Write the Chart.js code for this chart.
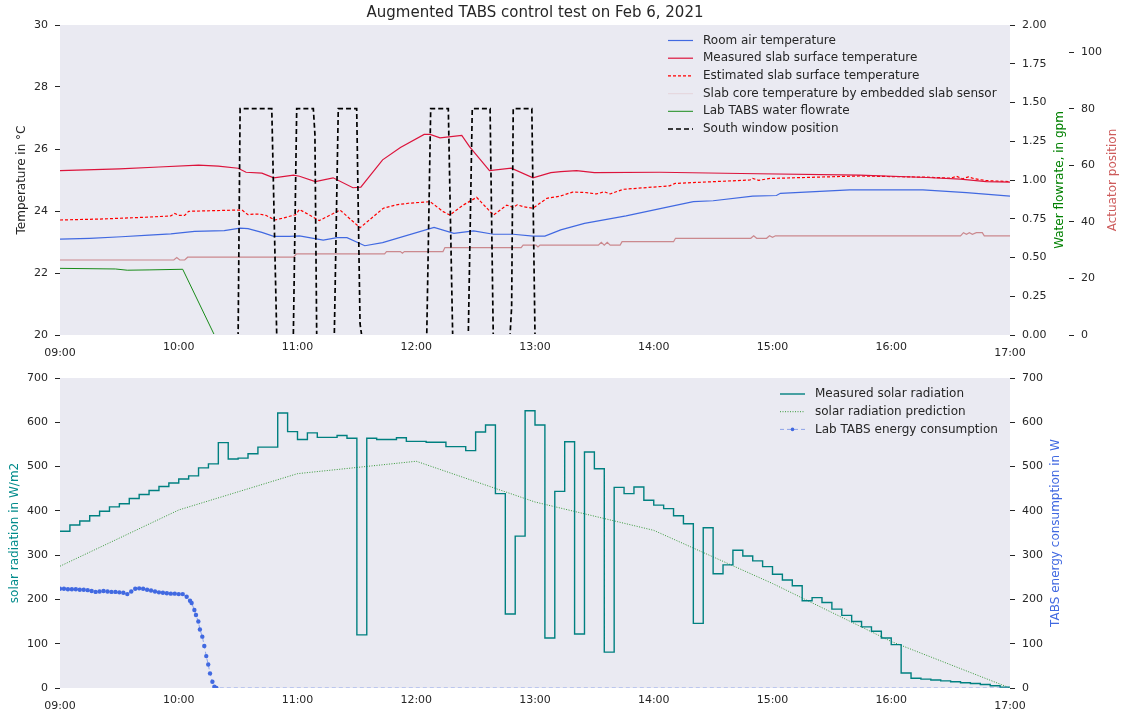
<!DOCTYPE html>
<html>
<head>
<meta charset="utf-8">
<script src="https://cdn.jsdelivr.net/npm/chart.js@4.4.1/dist/chart.umd.min.js"></script>
<style>
  html, body { margin: 0; padding: 0; background: #fff; }
  canvas { display: block; }
</style>
</head>
<body>
<canvas id="topChart" width="1124" height="360"></canvas>
<canvas id="bottomChart" width="1124" height="357"></canvas>
<script>
// x values are minutes after 09:00
var xTicks = [0, 60, 120, 180, 240, 300, 360, 420, 480];
var tickLabels = ["09:00", "10:00", "11:00", "12:00", "13:00", "14:00", "15:00", "16:00", "17:00"];

// ---- top panel ----
var roomT = [0, 15, 31, 45, 56, 68, 83, 91, 95, 102, 108, 116, 121, 133, 140, 145, 154, 163, 189, 199, 209, 219, 229, 239, 245, 253, 265, 286, 308, 320, 330, 350, 362, 364, 399, 436, 458, 480];
var roomV = [23.09, 23.12, 23.17, 23.22, 23.26, 23.34, 23.37, 23.45, 23.43, 23.31, 23.18, 23.18, 23.2, 23.06, 23.14, 23.14, 22.88, 22.98, 23.47, 23.28, 23.36, 23.25, 23.25, 23.19, 23.19, 23.39, 23.6, 23.84, 24.14, 24.3, 24.33, 24.48, 24.5, 24.57, 24.68, 24.68, 24.59, 24.48];

var slabT = [0, 30, 50, 70, 80, 90, 94, 102, 108, 118, 121, 129, 138, 148, 152, 163, 172, 184, 187, 192, 203, 207, 217, 228, 239, 248, 253, 261, 270, 303, 344, 404, 438, 455, 468, 480];
var slabV = [25.3, 25.36, 25.42, 25.48, 25.45, 25.38, 25.25, 25.22, 25.07, 25.16, 25.12, 24.95, 25.07, 24.75, 24.77, 25.65, 26.05, 26.47, 26.47, 26.36, 26.44, 26.07, 25.3, 25.38, 25.07, 25.24, 25.27, 25.3, 25.24, 25.25, 25.21, 25.16, 25.08, 25.03, 24.95, 24.93];

var estT = [0, 20, 40, 56, 58, 60, 63, 65, 90, 92, 95, 98, 101, 104, 108.6, 112, 119, 121, 131, 141.5, 151.6, 163.4, 170, 176, 187, 193.6, 197, 203.7, 210.5, 219, 225.7, 229, 231, 234, 239, 246, 252.7, 259, 265, 271, 275, 278, 281, 284.6, 308, 310.8, 348.7, 350, 353, 358.8, 404, 438, 450, 453, 456, 459, 462, 468, 480];
var estV = [23.71, 23.74, 23.79, 23.84, 23.92, 23.86, 23.86, 23.99, 24.03, 24.03, 23.88, 23.9, 23.9, 23.86, 23.71, 23.76, 23.88, 24.05, 23.69, 24.03, 23.46, 24.09, 24.2, 24.25, 24.3, 23.98, 23.87, 24.19, 24.44, 23.87, 24.19, 24.12, 24.2, 24.14, 24.09, 24.41, 24.48, 24.61, 24.6, 24.55, 24.62, 24.55, 24.62, 24.7, 24.81, 24.89, 25.0, 25.05, 24.99, 25.05, 25.13, 25.09, 25.06, 25.12, 25.04, 25.1, 25.04, 24.98, 24.95];

var coreT = [0, 57.5, 59, 60.5, 63, 64.5, 118, 119.5, 164, 165, 172, 173, 174, 193.5, 194.5, 233, 234, 240.5, 241.5, 242.5, 272, 273.5, 275, 276.5, 278, 283, 284, 310, 311, 349, 350.5, 352, 357, 358.5, 360, 361.5, 455, 456.5, 458, 459.5, 461, 463, 466, 467, 480];
var coreV = [22.42, 22.42, 22.5, 22.42, 22.42, 22.51, 22.51, 22.62, 22.62, 22.69, 22.69, 22.64, 22.69, 22.69, 22.82, 22.82, 22.9, 22.9, 22.84, 22.9, 22.9, 22.99, 22.9, 22.99, 22.9, 22.9, 23.01, 23.01, 23.12, 23.12, 23.2, 23.12, 23.12, 23.2, 23.15, 23.2, 23.2, 23.3, 23.25, 23.3, 23.25, 23.3, 23.3, 23.2, 23.2];

var flowT = [0, 28, 34, 45, 62, 78, 480];
var flowV = [0.43, 0.426, 0.418, 0.42, 0.424, 0, 0];

var windowT = [0, 90, 91, 107, 109.5, 117.9, 119.6, 128, 128.8, 129.7, 138.6, 140.6, 149.9, 151.6, 152.4, 185.3, 187.3, 196.2, 198.4, 206.3, 208.3, 217.3, 218.9, 227.4, 228.2, 229, 238.4, 240, 480];
var windowV = [0, 0, 80, 80, 0, 0, 80, 80, 71, 0, 0, 80, 80, 4, 0, 0, 80, 80, 0, 0, 80, 80, 0, 0, 10, 80, 80, 0, 0];

// ---- bottom panel ----
// measured solar radiation, one value per 5 minutes from 09:00
var solarV = [354, 368, 377, 389, 399, 409, 416, 428, 437, 446, 455, 463, 472, 479, 497, 506, 554, 517, 519, 529,
  544, 544, 621, 579, 561, 576, 566, 566, 570, 564, 120, 564, 561, 561, 565, 557, 557, 555, 555, 545,
  545, 536, 578, 594, 439, 167, 343, 626, 594, 113, 444, 556, 122, 533, 495, 81, 453, 439, 454, 424,
  413, 405, 389, 371, 146, 362, 258, 278, 311, 298, 287, 274, 257, 244, 231, 197, 204, 193, 178, 164,
  150, 138, 128, 113, 98, 34, 22, 20, 18, 16, 14, 12, 10, 8, 5, 2, 1];

var predT = [0, 60, 120, 180, 240, 300, 360, 420, 480];
var predV = [275, 402, 484, 512, 420, 356, 236, 105, 0];

var energyT = [0, 2, 4, 6, 8, 10, 12, 14, 16, 18, 20, 22, 24, 26, 28, 30, 32, 34, 36, 38, 40, 42, 44, 46, 48, 50, 52, 54, 56, 58, 60, 62, 64, 65.7, 66.5, 67.9, 68.7, 69.9, 70.7, 71.9, 72.9, 73.9, 74.9, 75.8, 77, 78, 79, 480];
var energyV = [224, 224, 223, 223, 223, 222, 222, 221, 219, 217, 218, 219, 218, 217, 217, 216, 215, 212, 218, 224, 225, 224, 222, 220, 218, 216, 215, 214, 213, 213, 212, 212, 206, 197, 192, 176, 165, 150, 132, 116, 95, 72, 53, 33, 14, 3, 0, 0];

var FONT = "'DejaVu Sans', 'Liberation Sans', sans-serif";
var TXT = "#262626";
Chart.defaults.font.family = FONT;
Chart.defaults.color = TXT;

function pts(t, v) {
	var out = [];
	for (var i = 0; i < t.length; i++) out.push({ x: t[i], y: v[i] });
	return out;
}
var solarT = solarV.map(function (v, i) { return i * 5; });

function xAxis(h) {
	return {
		type: "linear", min: 0, max: 480,
		grid: { display: false },
		border: { display: false },
		ticks: {
			stepSize: 60, autoSkip: false, maxRotation: 0, padding: -2,
			callback: function (v) { return tickLabels[xTicks.indexOf(v)]; },
			// end labels sit a bit lower, like in the original
			font: function (ctx) {
				var end = ctx.index === 0 || ctx.index === xTicks.length - 1;
				return { family: FONT, size: 11, lineHeight: end ? 2.2 : 1.2 };
			}
		},
		afterFit: function (s) { s.height = h; }
	};
}

function yAxis(pos, w, extra) {
	var a = {
		position: pos,
		grid: { drawOnChartArea: false, drawTicks: true, tickLength: 5, tickColor: TXT },
		border: { display: false },
		ticks: { padding: 7, font: { size: 11 } },
		afterFit: function (s) { s.width = w; }
	};
	for (var k in extra) a[k] = extra[k];
	return a;
}

var bgPlugin = {
	id: "bg",
	beforeDraw: function (chart) {
		var a = chart.chartArea, c = chart.ctx;
		c.save();
		c.fillStyle = "#EAEAF2";
		c.fillRect(a.left, a.top, a.right - a.left, a.bottom - a.top);
		c.restore();
	}
};

function legendPlugin(id, items, x, y, dy) {
	return {
		id: id,
		afterDraw: function (chart) {
			var c = chart.ctx;
			c.save();
			items.forEach(function (it, i) {
				var yy = y + i * dy;
				c.beginPath();
				c.strokeStyle = it.color;
				c.lineWidth = it.width;
				c.setLineDash(it.dash || []);
				c.moveTo(x, yy);
				c.lineTo(x + 25, yy);
				c.stroke();
				if (it.point) {
					c.setLineDash([]);
					c.fillStyle = it.point;
					c.beginPath();
					c.arc(x + 12.5, yy, 1.8, 0, Math.PI * 2);
					c.fill();
				}
				c.fillStyle = TXT;
				c.font = "12px " + FONT;
				c.textBaseline = "middle";
				c.textAlign = "left";
				c.fillText(it.label, x + 35, yy);
			});
			c.restore();
		}
	};
}

function sideTitles(id, list) {
	return {
		id: id,
		afterDraw: function (chart) {
			var c = chart.ctx, a = chart.chartArea;
			list.forEach(function (t) {
				c.save();
				c.translate(t.x, (a.top + a.bottom) / 2);
				c.rotate(-Math.PI / 2);
				c.fillStyle = t.color;
				c.font = "12px " + FONT;
				c.textAlign = "center";
				c.textBaseline = "middle";
				c.fillText(t.text, 0, 0);
				c.restore();
			});
		}
	};
}

// ---------- top chart ----------
new Chart("topChart", {
	type: "line",
	data: {
		datasets: [
			{ label: "South window position", data: pts(windowT, windowV), yAxisID: "yAct", borderColor: "#000", borderWidth: 1.7, borderDash: [5, 3], order: 0, clip: { left: 0, top: 0, right: 0, bottom: -1 } },
			{ label: "Room air temperature", data: pts(roomT, roomV), yAxisID: "y", borderColor: "royalblue", borderWidth: 1.2, order: 1 },
			{ label: "Measured slab surface temperature", data: pts(slabT, slabV), yAxisID: "y", borderColor: "crimson", borderWidth: 1.2, order: 2 },
			{ label: "Estimated slab surface temperature", data: pts(estT, estV), yAxisID: "y", borderColor: "red", borderWidth: 1.2, borderDash: [3, 2], order: 3 },
			{ label: "Slab core temperature by embedded slab sensor", data: pts(coreT, coreV), yAxisID: "y", borderColor: "rgba(190,95,100,0.7)", borderWidth: 1.2, order: 4 },
			{ label: "Lab TABS water flowrate", data: pts(flowT, flowV), yAxisID: "yFlow", borderColor: "green", borderWidth: 0.9, order: 5, clip: { left: 0, top: 0, right: 0, bottom: -1 } }
		]
	},
	options: {
		responsive: false,
		animation: false,
		devicePixelRatio: 1,
		elements: { point: { radius: 0 }, line: { tension: 0 } },
		plugins: {
			legend: { display: false },
			tooltip: { enabled: false },
			title: {
				display: true, fullSize: false,
				text: "Augmented TABS control test on Feb 6, 2021",
				font: { size: 15, weight: "normal" }, color: TXT,
				padding: { top: 4, bottom: 3 }
			}
		},
		scales: {
			x: xAxis(25),
			y: yAxis("left", 60, {
				min: 20, max: 30,
				ticks: { stepSize: 2, padding: 7, font: { size: 11 } },
				title: { display: true, text: "Temperature in °C", font: { size: 12 }, color: TXT, padding: { top: 15 } }
			}),
			yFlow: yAxis("right", 59, {
				min: 0, max: 2, weight: 0,
				ticks: { stepSize: 0.25, padding: 7, font: { size: 11 }, callback: function (v) { return v.toFixed(2); } }
			}),
			yAct: yAxis("right", 55, {
				min: 0, max: 109.6, weight: 1,
				ticks: { stepSize: 20, includeBounds: false, padding: 7, font: { size: 11 } }
			})
		}
	},
	plugins: [
		bgPlugin,
		legendPlugin("legTop", [
			{ label: "Room air temperature", color: "royalblue", width: 1.2 },
			{ label: "Measured slab surface temperature", color: "crimson", width: 1.2 },
			{ label: "Estimated slab surface temperature", color: "red", width: 1.2, dash: [3, 2] },
			{ label: "Slab core temperature by embedded slab sensor", color: "rgba(205,92,92,0.12)", width: 1.2 },
			{ label: "Lab TABS water flowrate", color: "green", width: 0.9 },
			{ label: "South window position", color: "#000", width: 1.7, dash: [5, 3] }
		], 668, 40.5, 17.7),
		sideTitles("sideTop", [
			{ text: "Water flowrate, in gpm", color: "green", x: 1060 },
			{ text: "Actuator position", color: "indianred", x: 1113 }
		])
	]
});

// ---------- bottom chart ----------
new Chart("bottomChart", {
	type: "line",
	data: {
		datasets: [
			{ label: "Measured solar radiation", data: pts(solarT, solarV), yAxisID: "y", borderColor: "teal", borderWidth: 1.4, stepped: "before", order: 1 },
			{ label: "solar radiation prediction", data: pts(predT, predV), yAxisID: "y", borderColor: "rgba(0,128,0,0.85)", borderWidth: 0.9, borderDash: [1, 1.5], order: 2 },
			{
				label: "Lab TABS energy consumption", data: pts(energyT, energyV), yAxisID: "y2",
				borderColor: "rgba(65,105,225,0.55)", borderWidth: 1, borderDash: [4, 3], order: 0,
				pointRadius: function (ctx) { return ctx.raw && ctx.raw.x > 79 ? 0 : 2.2; },
				pointBackgroundColor: "royalblue", pointBorderWidth: 0
			}
		]
	},
	options: {
		responsive: false,
		animation: false,
		devicePixelRatio: 1,
		layout: { padding: { top: 18 } },
		elements: { point: { radius: 0 }, line: { tension: 0 } },
		plugins: { legend: { display: false }, tooltip: { enabled: false } },
		scales: {
			x: xAxis(29),
			y: yAxis("left", 60, {
				min: 0, max: 700,
				ticks: { stepSize: 100, padding: 7, font: { size: 11 } },
				title: { display: true, text: "solar radiation in W/m2", font: { size: 12 }, color: "darkcyan", padding: { top: 8 } }
			}),
			y2: yAxis("right", 114, {
				min: 0, max: 700,
				ticks: { stepSize: 100, padding: 7, font: { size: 11 } }
			})
		}
	},
	plugins: [
		bgPlugin,
		legendPlugin("legBottom", [
			{ label: "Measured solar radiation", color: "teal", width: 1.4 },
			{ label: "solar radiation prediction", color: "rgba(0,128,0,0.85)", width: 0.9, dash: [1, 1.5] },
			{ label: "Lab TABS energy consumption", color: "rgba(65,105,225,0.55)", width: 1, dash: [4, 3], point: "royalblue" }
		], 780, 34, 17.7),
		sideTitles("sideBottom", [
			{ text: "TABS energy consumption in W", color: "royalblue", x: 1056 }
		])
	]
});
</script>
</body>
</html>
